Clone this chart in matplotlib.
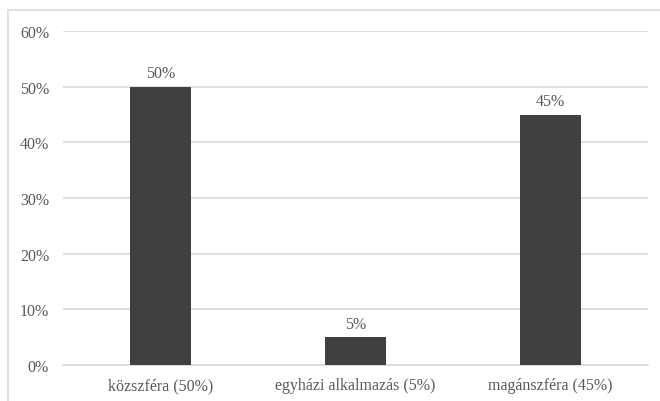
import matplotlib
matplotlib.use("Agg")
import matplotlib.pyplot as plt
from matplotlib.patches import Rectangle

categories = ["közszféra (50%)", "egyházi alkalmazás (5%)", "magánszféra (45%)"]
values = [50, 5, 45]
yticks = [0, 10, 20, 30, 40, 50, 60]
ytick_labels = ["0%", "10%", "20%", "30%", "40%", "50%", "60%"]

W, H = 660, 402
plt.rcParams["font.family"] = ["Liberation Serif", "DejaVu Serif"]
text_color = "#595959"
grid_color = "#d9d9d9"
bar_color = "#404040"

fig = plt.figure(figsize=(W / 100, H / 100), dpi=100)
fig.patch.set_facecolor("white")

# outer chart frame (extends past the right/bottom edges)
fig.patches.append(Rectangle((8 / W, -0.05), 1.2, (H - 11) / H + 0.05,
                             transform=fig.transFigure, fill=False,
                             edgecolor=grid_color, linewidth=1.2))

ax = fig.add_axes([63 / W, 1 - 366 / H, 585 / W, (366 - 32) / H])
x = range(len(categories))
bars = ax.bar(x, values, width=0.31, color=bar_color, zorder=3)
ax.set_xlim(-0.5, len(categories) - 0.5)
ax.set_ylim(0, 60)
ax.set_yticks(yticks)
ax.set_yticklabels(ytick_labels)
ax.set_xticks(list(x))
ax.set_xticklabels(categories)
ax.yaxis.grid(True, color=grid_color, linewidth=1.2, zorder=0)
for s in ["left", "right", "top"]:
    ax.spines[s].set_visible(False)
ax.spines["bottom"].set_color(grid_color)
ax.spines["bottom"].set_linewidth(1.2)
ax.tick_params(axis="both", length=0, colors=text_color, labelsize=11.5)
ax.tick_params(axis="y", pad=10)
ax.tick_params(axis="x", pad=9)

for b, v in zip(bars, values):
    ax.annotate(f"{v}%", (b.get_x() + b.get_width() / 2, v),
                xytext=(0, 4), textcoords="offset points",
                ha="center", va="bottom", color=text_color, fontsize=11.5)

fig.savefig("out.png", dpi=100)
